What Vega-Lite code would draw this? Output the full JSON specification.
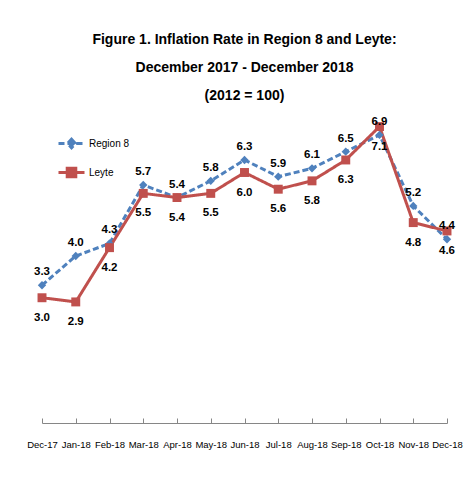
{
  "$schema": "https://vega.github.io/schema/vega-lite/v6.json",
  "width": 405,
  "height": 334,
  "autosize": {"type": "none"},
  "padding": {"left": 42, "top": 89, "right": 26, "bottom": 63},
  "background": "white",
  "config": {"view": {"stroke": null}, "font": "Liberation Sans"},
  "title": {
    "text": ["Figure 1. Inflation Rate in Region 8 and Leyte:", "December 2017 - December 2018", "(2012 = 100)"],
    "font": "Liberation Sans",
    "fontSize": 14,
    "fontWeight": "bold",
    "lineHeight": 28,
    "anchor": "middle",
    "offset": -14,
    "color": "black"
  },
  "data": {
    "values": [
      {"month": "Dec-17", "series": "Region 8", "value": 3.3},
      {"month": "Jan-18", "series": "Region 8", "value": 4.0},
      {"month": "Feb-18", "series": "Region 8", "value": 4.3},
      {"month": "Mar-18", "series": "Region 8", "value": 5.7},
      {"month": "Apr-18", "series": "Region 8", "value": 5.4},
      {"month": "May-18", "series": "Region 8", "value": 5.8},
      {"month": "Jun-18", "series": "Region 8", "value": 6.3},
      {"month": "Jul-18", "series": "Region 8", "value": 5.9},
      {"month": "Aug-18", "series": "Region 8", "value": 6.1},
      {"month": "Sep-18", "series": "Region 8", "value": 6.5},
      {"month": "Oct-18", "series": "Region 8", "value": 6.9},
      {"month": "Nov-18", "series": "Region 8", "value": 5.2},
      {"month": "Dec-18", "series": "Region 8", "value": 4.4},
      {"month": "Dec-17", "series": "Leyte", "value": 3.0},
      {"month": "Jan-18", "series": "Leyte", "value": 2.9},
      {"month": "Feb-18", "series": "Leyte", "value": 4.2},
      {"month": "Mar-18", "series": "Leyte", "value": 5.5},
      {"month": "Apr-18", "series": "Leyte", "value": 5.4},
      {"month": "May-18", "series": "Leyte", "value": 5.5},
      {"month": "Jun-18", "series": "Leyte", "value": 6.0},
      {"month": "Jul-18", "series": "Leyte", "value": 5.6},
      {"month": "Aug-18", "series": "Leyte", "value": 5.8},
      {"month": "Sep-18", "series": "Leyte", "value": 6.3},
      {"month": "Oct-18", "series": "Leyte", "value": 7.1},
      {"month": "Nov-18", "series": "Leyte", "value": 4.8},
      {"month": "Dec-18", "series": "Leyte", "value": 4.6}
    ]
  },
  "encoding": {
    "x": {
      "field": "month",
      "type": "ordinal",
      "sort": null,
      "scale": {"type": "point", "padding": 0},
      "axis": {
        "title": null,
        "labelAngle": 0,
        "labelFont": "Liberation Sans",
        "labelFontSize": 9.5,
        "labelColor": "#000000",
        "domainColor": "#868686",
        "tickColor": "#868686",
        "tickSize": -5,
        "labelPadding": 21,
        "grid": false
      }
    },
    "y": {"field": "value", "type": "quantitative", "scale": {"domain": [0, 8]}, "axis": null}
  },
  "layer": [
    {
      "transform": [{"filter": "datum.series === 'Region 8'"}],
      "mark": {"type": "line", "strokeWidth": 3},
      "encoding": {
        "color": {
          "field": "series",
          "type": "nominal",
          "scale": {"domain": ["Region 8", "Leyte"], "range": ["#4F81BD", "#C0504D"]},
          "legend": {
            "orient": "none",
            "legendX": 15,
            "legendY": 40,
            "title": null,
            "padding": 0,
            "symbolType": "stroke",
            "symbolSize": 676,
            "symbolStrokeWidth": 3,
            "labelFont": "Liberation Sans",
            "labelFontSize": 10,
            "labelColor": "#000000",
            "labelOffset": 3,
            "rowPadding": 4,
            "encode": {
              "symbols": {
                "update": {
                  "shape": {"signal": "datum.value === 'Region 8' ? 'M-1,0L1,0M0,-0.33L0.3,0L0,0.33L-0.3,0Z' : 'M-1,0L1,0M-0.33,-0.33L0.33,-0.33L0.33,0.33L-0.33,0.33Z'"},
                  "fill": {"signal": "datum.value === 'Region 8' ? '#4F81BD' : '#C0504D'"}
                }
              }
            }
          }
        },
        "strokeDash": {
          "field": "series",
          "type": "nominal",
          "scale": {"domain": ["Region 8", "Leyte"], "range": [[6, 3], [1, 0]]}
        }
      }
    },
    {
      "transform": [{"filter": "datum.series === 'Leyte'"}],
      "mark": {"type": "line", "strokeWidth": 3},
      "encoding": {
        "color": {"field": "series", "type": "nominal"},
        "strokeDash": {"field": "series", "type": "nominal"}
      }
    },
    {
      "transform": [{"filter": "datum.series === 'Region 8'"}],
      "mark": {"type": "point", "shape": "diamond", "filled": true, "size": 70, "color": "#4F81BD", "opacity": 1}
    },
    {
      "transform": [{"filter": "datum.series === 'Leyte'"}],
      "mark": {"type": "point", "shape": "square", "filled": true, "size": 80, "color": "#C0504D", "opacity": 1}
    },
    {
      "transform": [{"filter": "datum.series === 'Region 8'"}],
      "mark": {"type": "text", "dy": -13, "font": "Liberation Sans", "fontSize": 11.5, "fontWeight": "bold", "color": "#000000"},
      "encoding": {"text": {"field": "value", "type": "quantitative", "format": ".1f"}}
    },
    {
      "transform": [{"filter": "datum.series === 'Leyte'"}],
      "mark": {"type": "text", "dy": 20, "font": "Liberation Sans", "fontSize": 11.5, "fontWeight": "bold", "color": "#000000"},
      "encoding": {"text": {"field": "value", "type": "quantitative", "format": ".1f"}}
    }
  ]
}
